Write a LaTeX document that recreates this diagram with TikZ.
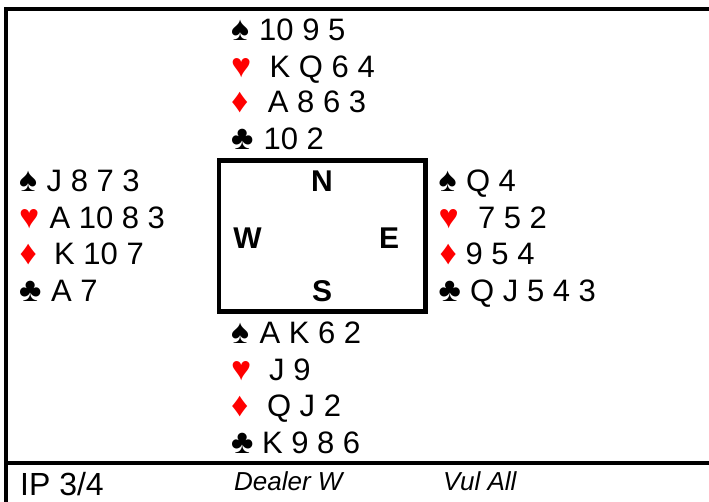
\documentclass[tikz,border=0pt]{standalone}
\usepackage{fontspec}
\setmainfont{Liberation Sans}
\newfontfamily\suitfam{Liberation Sans}
\definecolor{suitred}{RGB}{255,0,0}
\newcommand{\handfont}{\fontsize{31}{36}\selectfont}
\newcommand{\suitfont}{\suitfam\fontsize{34}{36}\selectfont}
\newcommand{\cardline}[7]{%
  \node[suitst, text=#5] (#1s) at (#2,#4) {#6};
  \node[cardtxt] (#1t) at (#3,#4) {#7};
}
\begin{document}
\begin{tikzpicture}[x=1pt,y=-1pt,
  suitst/.style={anchor=base west, inner sep=0pt, font=\suitfont},
  cardtxt/.style={anchor=base west, inner sep=0pt, font=\handfont},
  compass/.style={anchor=base, inner sep=0pt, font=\fontsize{30}{34}\selectfont\bfseries},
  frame/.style={line width=4pt, line cap=rect},
  table/.style={draw, line width=4.5pt},
  infotxt/.style={anchor=base west, inner sep=0pt, font=\fontsize{26}{30}\selectfont\itshape}]
\useasboundingbox (0,0) rectangle (709,502);
% outer frame
\coordinate (tl) at (5.5,9);
\coordinate (tr) at (712,9);
\coordinate (bl) at (5.5,505);
\coordinate (ml) at (5.5,462.5);
\coordinate (mr) at (712,462.5);
\draw[frame] (tr) -- (tl) -- (bl);
\draw[frame] (ml) -- (mr);
% table
\node[table, minimum width=206.5pt, minimum height=151pt, inner sep=0pt] (tbl) at (322.25,236) {};
\node[compass] (N) at (322,192) {N};
\node[compass] (W) at (247.5,249) {W};
\node[compass] (E) at (389,249) {E};
\node[compass] (S) at (322,302) {S};
% North
\cardline{ns}{231}{259}{41}{black}{♠}{10 9 5}
\cardline{nh}{231}{269.5}{78}{suitred}{♥}{K Q 6 4}
\cardline{nd}{231}{267.7}{113}{suitred}{♦}{A 8 6 3}
\cardline{nc}{231}{263.4}{150}{black}{♣}{10 2}
% West
\cardline{ws}{19}{46.5}{191.5}{black}{♠}{J 8 7 3}
\cardline{wh}{19}{49.3}{228.3}{suitred}{♥}{A 10 8 3}
\cardline{wd}{19.5}{54}{265}{suitred}{♦}{K 10 7}
\cardline{wc}{19}{51}{301.5}{black}{♣}{A 7}
% East
\cardline{es}{438.5}{465.8}{192}{black}{♠}{Q 4}
\cardline{eh}{438.5}{477.8}{229}{suitred}{♥}{7 5 2}
\cardline{ed}{439.5}{465.4}{265}{suitred}{♦}{9 5 4}
\cardline{ec}{438.5}{470}{301.5}{black}{♣}{Q J 5 4 3}
% South
\cardline{ss}{231}{259.3}{343.3}{black}{♠}{A K 6 2}
\cardline{sh}{231}{269}{380}{suitred}{♥}{J 9}
\cardline{sd}{231}{266.8}{416.7}{suitred}{♦}{Q J 2}
\cardline{sc}{231}{261.8}{453.3}{black}{♣}{K 9 8 6}
% bottom info
\node[anchor=base west, inner sep=0pt, font=\fontsize{32}{36}\selectfont] (ip) at (20,495) {IP 3/4};
\node[infotxt] (dealer) at (234,490) {Dealer W};
\node[infotxt] (vul) at (443,490) {Vul All};
\end{tikzpicture}
\end{document}
